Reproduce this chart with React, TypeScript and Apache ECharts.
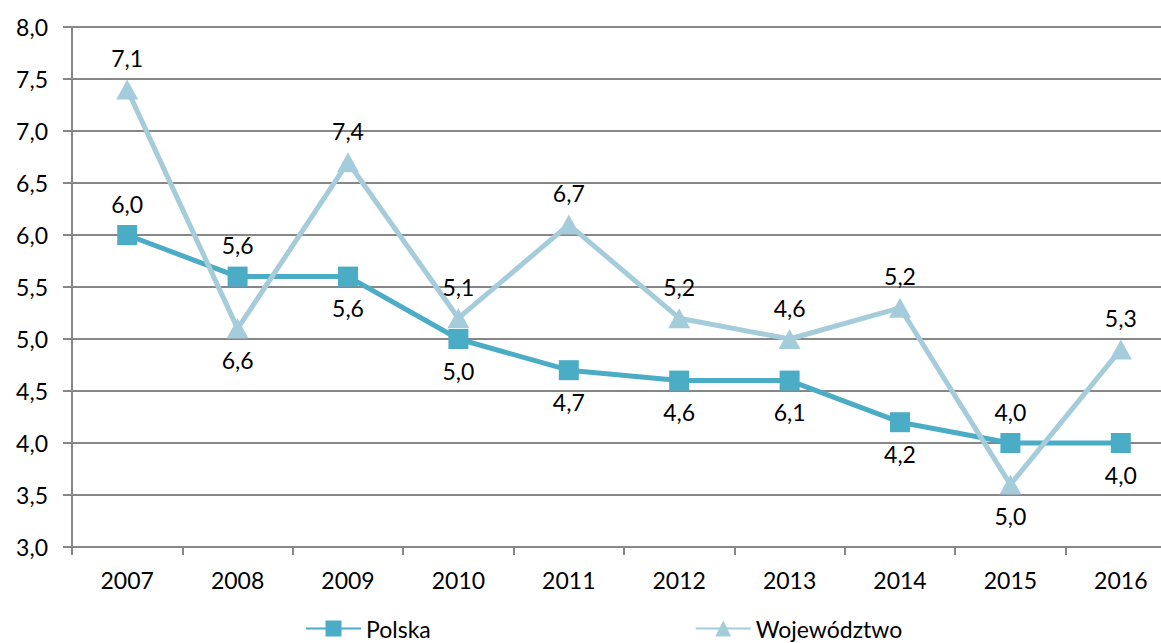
import React, { useEffect, useRef } from "react";
import * as echarts from "echarts";

const years = ["2007", "2008", "2009", "2010", "2011", "2012", "2013", "2014", "2015", "2016"];
const polska = [6.0, 5.6, 5.6, 5.0, 4.7, 4.6, 4.6, 4.2, 4.0, 4.0];
const wojewodztwo = [7.4, 5.1, 6.7, 5.2, 6.1, 5.2, 5.0, 5.3, 3.6, 4.9];
const polskaLabels = ["6,0", "5,6", "5,6", "5,0", "4,7", "4,6", "6,1", "4,2", "4,0", "4,0"];
const wojLabels = ["7,1", "6,6", "7,4", "5,1", "6,7", "5,2", "4,6", "5,2", "5,0", "5,3"];
const polskaLabelSide = ["top", "top", "bottom", "bottom", "bottom", "bottom", "bottom", "bottom", "top", "bottom"];
const wojLabelSide = ["top", "bottom", "top", "top", "top", "top", "top", "top", "bottom", "top"];
const yTicks = { min: 3, max: 8, interval: 0.5 };

const FONT = "Lato, 'Open Sans', sans-serif";
const FS = 23;
const C_POLSKA = "#4BACC6";
const C_WOJ = "#A5CCDA";
const C_AXIS = "#878787";

export default function App() {
  const ref = useRef<HTMLDivElement>(null);
  useEffect(() => {
    if (!ref.current) return;
    const chart = echarts.init(ref.current, undefined, { renderer: "svg" });
    const mk = (vals: number[], labels: string[], sides: string[]) =>
      vals.map((v, i) => ({
        value: v,
        label: { position: sides[i], formatter: labels[i] },
      }));
    const labelStyle = {
      show: true,
      color: "#000",
      fontFamily: FONT,
      fontSize: FS,
      distance: 10,
    };
    chart.setOption({
      animation: false,
      textStyle: { fontFamily: FONT },
      grid: { left: 72, right: -15, top: 27, bottom: 96, containLabel: false, outerBoundsMode: "none" },
      legend: {
        left: 300,
        top: 612,
        itemWidth: 55,
        itemHeight: 20,
        itemGap: 264,
        textStyle: { fontFamily: FONT, fontSize: FS, color: "#000" },
        data: ["Polska", "Województwo"],
      },
      xAxis: {
        type: "category",
        data: years,
        boundaryGap: true,
        axisLine: { lineStyle: { color: C_AXIS, width: 2 } },
        axisTick: { show: true, length: 8, lineStyle: { color: C_AXIS, width: 2 } },
        axisLabel: { color: "#000", fontFamily: FONT, fontSize: FS, margin: 21 },
        splitLine: { show: false },
      },
      yAxis: {
        type: "value",
        min: yTicks.min,
        max: yTicks.max,
        interval: yTicks.interval,
        axisLine: { show: true, lineStyle: { color: C_AXIS, width: 2 } },
        axisTick: { show: true, length: 9, lineStyle: { color: C_AXIS, width: 2 } },
        axisLabel: {
          color: "#000",
          fontFamily: FONT,
          fontSize: FS,
          margin: 24,
          formatter: (v: number) => v.toFixed(1).replace(".", ","),
        },
        splitLine: { show: true, lineStyle: { color: C_AXIS, width: 2 } },
      },
      series: [
        {
          name: "Polska",
          type: "line",
          data: mk(polska, polskaLabels, polskaLabelSide),
          symbol: "rect",
          symbolSize: 20,
          showAllSymbol: true,
          color: C_POLSKA,
          lineStyle: { color: C_POLSKA, width: 5 },
          itemStyle: { color: C_POLSKA },
          label: labelStyle,
          z: 2,
        },
        {
          name: "Województwo",
          type: "line",
          data: mk(wojewodztwo, wojLabels, wojLabelSide),
          symbol: "triangle",
          symbolSize: [22, 20],
          showAllSymbol: true,
          color: C_WOJ,
          lineStyle: { color: C_WOJ, width: 5 },
          itemStyle: { color: C_WOJ },
          label: labelStyle,
          z: 3,
        },
      ],
    });
    return () => chart.dispose();
  }, []);
  return (
    <div
      ref={ref}
      style={{ position: "fixed", left: 0, top: 0, width: 1161, height: 643, background: "#fff" }}
    />
  );
}
